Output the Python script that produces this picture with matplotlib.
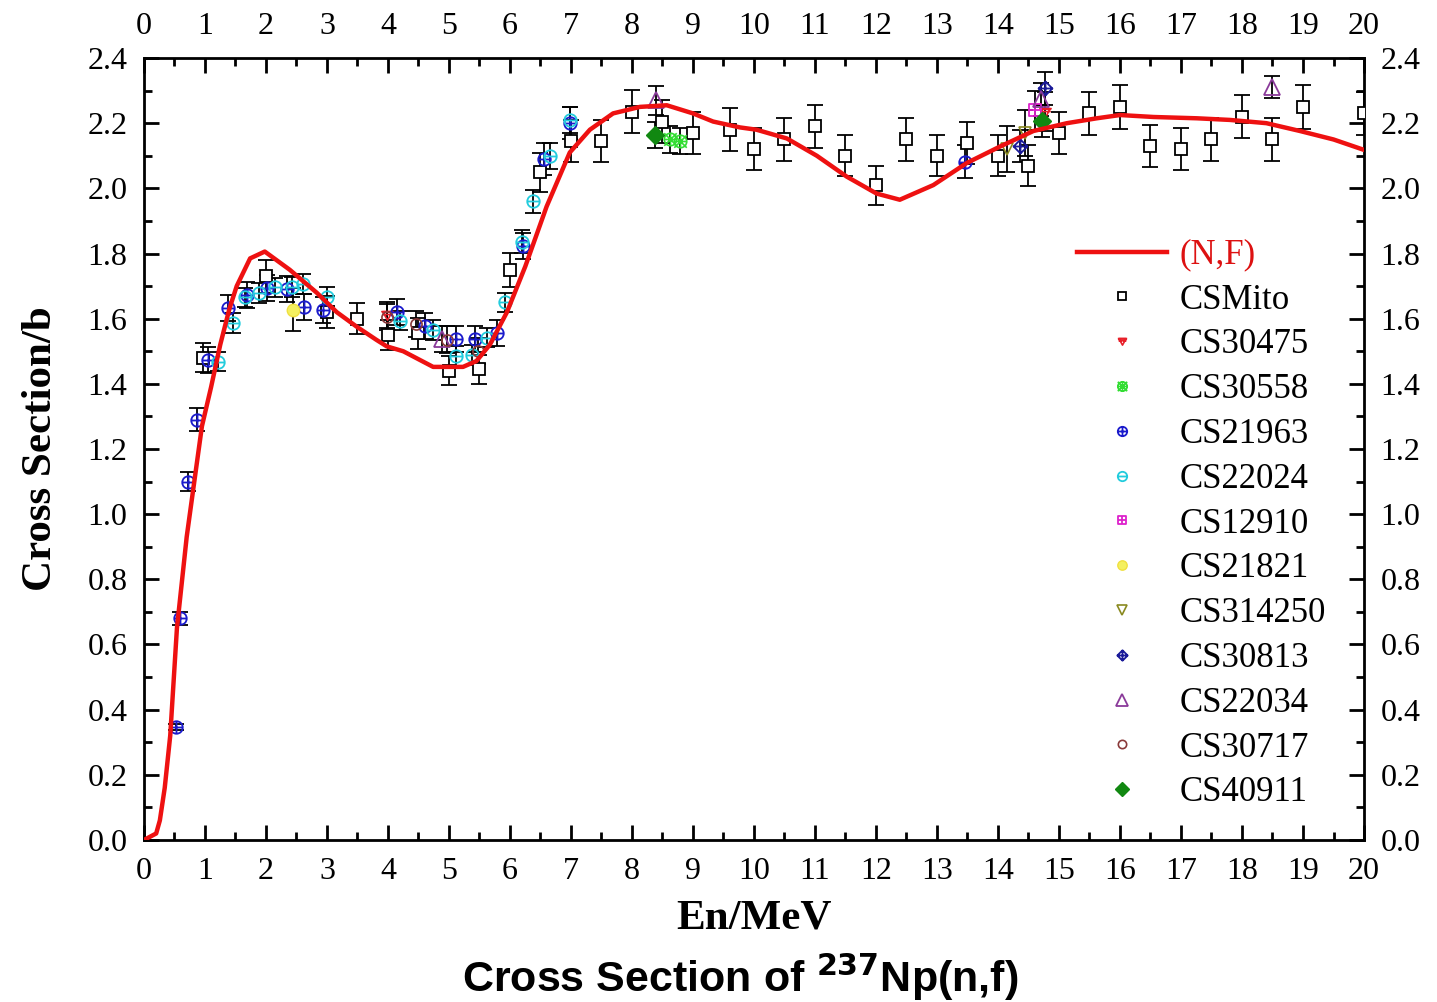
import matplotlib
matplotlib.use("Agg")
import matplotlib.pyplot as plt
from matplotlib.path import Path
from matplotlib.ticker import MultipleLocator

# ---------------- data ----------------
nf_x = [0, 0.1, 0.2, 0.26, 0.34, 0.43, 0.54, 0.70, 0.81, 0.95, 1.1, 1.25, 1.4, 1.52, 1.74,
        1.98, 2.39, 2.83, 3.16, 3.49, 3.81, 3.98, 4.25, 4.74, 5.23, 5.45, 5.67, 5.95,
        6.25, 6.6, 6.98, 7.31, 7.69, 8.13, 8.57, 9.0, 9.33, 9.77, 10.04, 10.54, 11.03,
        11.52, 12.01, 12.39, 12.94, 13.49, 14.03, 14.58, 15.13, 15.62, 16.0, 16.55,
        17.26, 17.8, 18.4, 18.95, 19.5, 20.0]
nf_y = [0, 0.01, 0.02, 0.06, 0.16, 0.32, 0.65, 0.93, 1.08, 1.27, 1.39, 1.52, 1.63, 1.70, 1.785,
        1.806, 1.75, 1.68, 1.62, 1.575, 1.535, 1.515, 1.50, 1.452, 1.452, 1.47, 1.52, 1.62,
        1.76, 1.944, 2.11, 2.18, 2.23, 2.25, 2.255, 2.23, 2.205, 2.187, 2.18, 2.153, 2.10,
        2.036, 1.984, 1.965, 2.01, 2.078, 2.128, 2.176, 2.20, 2.215, 2.225, 2.219,
        2.215, 2.21, 2.20, 2.176, 2.15, 2.118]

mito_x = [0.97, 2.0, 3.0, 3.5, 4.0, 4.5, 5.0, 5.5, 6.0, 6.5, 7.0, 7.5, 8.0, 8.5, 9.0,
          9.6, 10.0, 10.5, 11.0, 11.5, 12.0, 12.5, 13.0, 13.5, 14.0, 14.5, 15.0, 15.5,
          16.0, 16.5, 17.0, 17.5, 18.0, 18.5, 19.0, 20.0]
mito_y = [1.48, 1.73, 1.62, 1.60, 1.55, 1.555, 1.44, 1.445, 1.75, 2.05, 2.145, 2.145,
          2.235, 2.205, 2.17, 2.18, 2.12, 2.15, 2.19, 2.10, 2.01, 2.15, 2.10, 2.14,
          2.10, 2.07, 2.17, 2.23, 2.25, 2.13, 2.12, 2.15, 2.22, 2.15, 2.25, 2.23]
mito_e = [0.045, 0.05, 0.05, 0.048, 0.047, 0.047, 0.045, 0.045, 0.052, 0.06, 0.065, 0.065,
          0.066, 0.066, 0.065, 0.066, 0.064, 0.065, 0.066, 0.063, 0.06, 0.065, 0.063,
          0.064, 0.063, 0.062, 0.065, 0.067, 0.067, 0.064, 0.064, 0.065, 0.066, 0.065,
          0.067, 0.067]

cs30475_x = [3.98, 14.77]
cs30475_y = [1.61, 2.235]
cs30475_e = [0.04, 0.06]

cs30558_x = [8.62, 8.78]
cs30558_y = [2.15, 2.145]
cs30558_e = [0.04, 0.04]

cs21963_x = [0.52, 0.59, 0.72, 0.87, 1.05, 1.38, 1.69, 2.02, 2.34, 2.62, 2.94, 4.15,
             4.61, 5.11, 5.43, 5.79, 6.21, 6.55, 6.99, 13.46]
cs21963_y = [0.347, 0.68, 1.10, 1.29, 1.473, 1.632, 1.673, 1.693, 1.69, 1.635, 1.627, 1.62,
             1.578, 1.537, 1.537, 1.557, 1.823, 2.09, 2.20, 2.082]
cs21963_e = [0.01, 0.02, 0.03, 0.035, 0.04, 0.04, 0.04, 0.04, 0.04, 0.04, 0.04, 0.04,
             0.04, 0.04, 0.04, 0.04, 0.04, 0.05, 0.05, 0.05]

cs22024_x = [1.22, 1.46, 1.66, 1.89, 2.15, 2.42, 2.61, 3.0, 4.19, 4.74, 5.11, 5.37,
             5.62, 5.92, 6.19, 6.38, 6.66, 6.98]
cs22024_y = [1.468, 1.586, 1.665, 1.678, 1.696, 1.698, 1.706, 1.668, 1.594, 1.565, 1.486,
             1.489, 1.542, 1.65, 1.836, 1.96, 2.10, 2.21]
cs22024_e = [0.03, 0.03, 0.03, 0.03, 0.03, 0.03, 0.03, 0.03, 0.03, 0.03, 0.03, 0.03,
             0.03, 0.03, 0.035, 0.035, 0.04, 0.04]

cs12910_x = [14.6]
cs12910_y = [2.24]
cs12910_e = [0.06]

cs21821_x = [2.45]
cs21821_y = [1.628]
cs21821_e = [0.065]

cs314250_x = [14.15, 14.45]
cs314250_y = [2.12, 2.17]
cs314250_e = [0.07, 0.07]

cs30813_x = [14.36, 14.77]
cs30813_y = [2.13, 2.307]
cs30813_e = [0.05, 0.05]

cs22034_x = [4.88, 8.40, 14.71, 18.49]
cs22034_y = [1.539, 2.27, 2.273, 2.311]
cs22034_e = [0.04, 0.045, 0.05, 0.035]

cs30717_x = [3.98, 4.46, 4.97, 5.48]
cs30717_y = [1.606, 1.585, 1.536, 1.50]
cs30717_e = [0.04, 0.04, 0.04, 0.04]

cs40911_x = [8.38, 14.72]
cs40911_y = [2.164, 2.207]
cs40911_e = [0.04, 0.05]

x_ticks = list(range(0, 21))
y_ticks = [0.0, 0.2, 0.4, 0.6, 0.8, 1.0, 1.2, 1.4, 1.6, 1.8, 2.0, 2.2, 2.4]

# ---------------- custom markers ----------------
def seg(a, b):
    return Path([a, b], [Path.MOVETO, Path.LINETO])

circ = Path.unit_circle()
m_circle_plus = Path.make_compound_path(circ, seg((-1, 0), (1, 0)), seg((0, -1), (0, 1)))
m_circle_minus = Path.make_compound_path(circ, seg((-1, 0), (1, 0)))
diamond = Path([(0, 1), (1, 0), (0, -1), (-1, 0), (0, 1)],
               [Path.MOVETO, Path.LINETO, Path.LINETO, Path.LINETO, Path.CLOSEPOLY])
m_diamond_plus = Path.make_compound_path(diamond, seg((-1, 0), (1, 0)), seg((0, -1), (0, 1)))
square = Path([(-1, -1), (1, -1), (1, 1), (-1, 1), (-1, -1)],
              [Path.MOVETO, Path.LINETO, Path.LINETO, Path.LINETO, Path.CLOSEPOLY])
m_square_plus = Path.make_compound_path(square, seg((-1, 0), (1, 0)), seg((0, -1), (0, 1)))
tri_down = Path([(-1, 0.8), (1, 0.8), (0, -1), (-1, 0.8)],
                [Path.MOVETO, Path.LINETO, Path.LINETO, Path.CLOSEPOLY])
m_tri_line = Path.make_compound_path(tri_down, seg((-1.3, 0.8), (1.3, 0.8)),
                                     seg((-1.1, 0.2), (1.1, 0.2)))
m_star = Path.make_compound_path(seg((-1, -1), (1, 1)), seg((-1, 1), (1, -1)),
                                 seg((-1, 0), (1, 0)), seg((0, -1), (0, 1)),
                                 Path.unit_circle())

# ---------------- figure ----------------
plt.rcParams['font.family'] = ['Liberation Serif', 'DejaVu Serif']

fig = plt.figure(figsize=(14.37, 10.02), dpi=100)
ax = fig.add_axes([0.1002, 0.1617, 0.8490, 0.7804])

err_kw = dict(fmt='none', ecolor='black', elinewidth=1.3, capsize=6, capthick=1.3, zorder=2)

sets = [
    (mito_x, mito_y, mito_e, 'CSMito', dict(marker='s', ms=8, mfc='white', mec='black', mew=1.3)),
    (cs30475_x, cs30475_y, cs30475_e, 'CS30475', dict(marker=m_tri_line, ms=9, mfc='none', mec='#e8202a', mew=1.2)),
    (cs30558_x, cs30558_y, cs30558_e, 'CS30558', dict(marker=m_star, ms=9, mfc='none', mec='#33dd33', mew=1.2)),
    (cs21963_x, cs21963_y, cs21963_e, 'CS21963', dict(marker=m_circle_plus, ms=9, mfc='none', mec='#1a1acc', mew=1.3)),
    (cs22024_x, cs22024_y, cs22024_e, 'CS22024', dict(marker=m_circle_minus, ms=9, mfc='none', mec='#22ccdd', mew=1.3)),
    (cs12910_x, cs12910_y, cs12910_e, 'CS12910', dict(marker=m_square_plus, ms=8, mfc='none', mec='#dd22cc', mew=1.3)),
    (cs21821_x, cs21821_y, cs21821_e, 'CS21821', dict(marker='o', ms=9, mfc='#f4f060', mec='#f0e040', mew=1.0)),
    (cs314250_x, cs314250_y, cs314250_e, 'CS314250', dict(marker='v', ms=9, mfc='none', mec='#8a8a20', mew=1.2)),
    (cs30813_x, cs30813_y, cs30813_e, 'CS30813', dict(marker=m_diamond_plus, ms=10, mfc='none', mec='#1a1a99', mew=1.3)),
    (cs22034_x, cs22034_y, cs22034_e, 'CS22034', dict(marker='^', ms=11, mfc='none', mec='#8a3a9a', mew=1.3)),
    (cs30717_x, cs30717_y, cs30717_e, 'CS30717', dict(marker='o', ms=8, mfc='none', mec='#8a3a3a', mew=1.2)),
    (cs40911_x, cs40911_y, cs40911_e, 'CS40911', dict(marker='D', ms=9, mfc='#118811', mec='#118811', mew=1.0)),
]

line, = ax.plot(nf_x, nf_y, color='#ee1111', lw=3.2, zorder=4, label='(N,F)',
                solid_joinstyle='round')

handles = [line]
for xs, ys, es, lab, st in sets:
    ax.errorbar(xs, ys, yerr=es, **err_kw)
    h, = ax.plot(xs, ys, linestyle='none', zorder=3, label=lab, **st)
    handles.append(h)

ax.set_xlim(0, 20)
ax.set_ylim(0, 2.4)
ax.set_xticks(x_ticks)
ax.set_yticks(y_ticks)
ax.set_xticklabels([str(t) for t in x_ticks])
ax.set_yticklabels([f"{t:.1f}" for t in y_ticks])
ax.xaxis.set_minor_locator(MultipleLocator(0.5))
ax.yaxis.set_minor_locator(MultipleLocator(0.1))
ax.tick_params(which='both', direction='in', top=True, right=True,
               labeltop=True, labelright=True, labelsize=23, width=2, pad=12)
ax.tick_params(which='major', length=11)
ax.tick_params(which='minor', length=6)
for sp in ax.spines.values():
    sp.set_linewidth(2)

ax.set_xlabel('En/MeV', fontsize=31, fontweight='bold', labelpad=10)
ax.set_ylabel('Cross Section/b', fontsize=31, fontweight='bold', labelpad=20)

leg = ax.legend(handles=handles, loc='upper left', bbox_to_anchor=(0.745, 0.8),
                frameon=False, fontsize=25, handlelength=2.6, handletextpad=0.35,
                labelspacing=0.34, borderpad=0.2, markerscale=0.75)
for t in leg.get_texts():
    if t.get_text() == '(N,F)':
        t.set_color('#dd1111')

fig.text(0.515, 0.025, r'Cross Section of $^{\mathbf{237}}$Np(n,f)', ha='center', va='center',
         fontsize=31, fontweight='bold', family=['Liberation Sans', 'DejaVu Sans'])

fig.savefig('out.png', dpi=100)
